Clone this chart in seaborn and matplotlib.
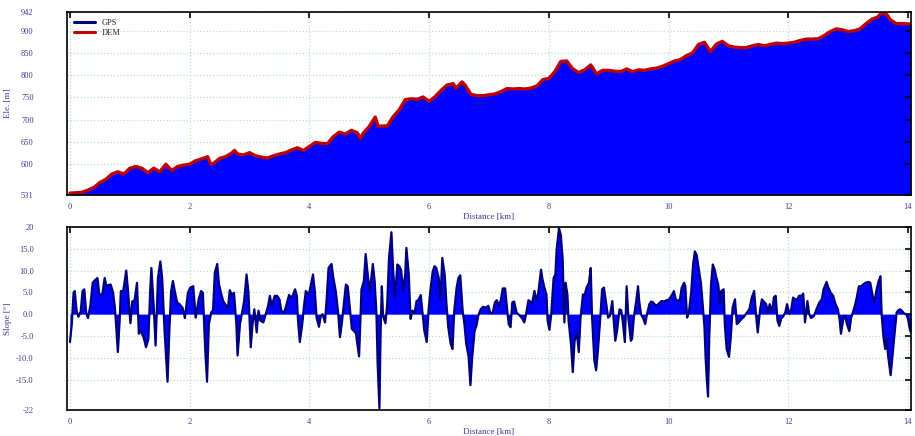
import matplotlib
matplotlib.use('Agg')
import matplotlib.pyplot as plt
import numpy as np
import pandas as pd
import seaborn as sns

# elevation profile
ele_km = [0.0, 0.1, 0.2, 0.3, 0.4, 0.5, 0.6, 0.7, 0.8, 0.9,
          1.0, 1.1, 1.2, 1.3, 1.4, 1.5, 1.6, 1.7, 1.8, 1.9,
          2.0, 2.1, 2.2, 2.3, 2.35, 2.4, 2.5, 2.6, 2.7, 2.75, 2.8, 2.9,
          3.0, 3.1, 3.2, 3.3, 3.4, 3.5, 3.6, 3.7, 3.8, 3.9,
          4.0, 4.1, 4.2, 4.3, 4.4, 4.5, 4.6, 4.7, 4.8, 4.85, 4.9,
          5.0, 5.1, 5.15, 5.2, 5.3, 5.4, 5.5, 5.6, 5.7, 5.8, 5.9,
          6.0, 6.1, 6.2, 6.3, 6.4, 6.45, 6.5, 6.55, 6.6, 6.7, 6.8, 6.9,
          7.0, 7.1, 7.2, 7.3, 7.4, 7.5, 7.6, 7.7, 7.8, 7.9,
          8.0, 8.1, 8.2, 8.3, 8.4, 8.5, 8.6, 8.7, 8.8, 8.9,
          9.0, 9.1, 9.2, 9.3, 9.4, 9.5, 9.6, 9.7, 9.8, 9.9,
          10.0, 10.1, 10.2, 10.3, 10.4, 10.5, 10.6, 10.7, 10.8, 10.9,
          11.0, 11.1, 11.2, 11.3, 11.4, 11.5, 11.6, 11.7, 11.8, 11.9,
          12.0, 12.1, 12.2, 12.3, 12.4, 12.5, 12.6, 12.7, 12.8, 12.9,
          13.0, 13.1, 13.2, 13.3, 13.4, 13.5, 13.55, 13.6, 13.65, 13.7, 13.8, 13.9,
          14.0, 14.05]
ele_m = [535, 536, 537, 542, 548, 559, 566, 578, 583, 578,
         591, 595, 591, 581, 591, 583, 600, 586, 595, 598,
         600, 608, 612, 617, 600, 602, 613, 617, 625, 631, 623, 621,
         626, 619, 616, 614, 619, 623, 626, 632, 637, 631,
         640, 649, 647, 646, 662, 672, 668, 676, 671, 658, 670,
         685, 706, 685, 686, 686, 707, 722, 745, 747, 746, 751,
         741, 752, 766, 778, 781, 771, 778, 785, 778, 757, 754, 754,
         756, 758, 763, 770, 769, 770, 769, 771, 776, 790,
         793, 808, 831, 832, 814, 806, 812, 823, 803, 811,
         811, 809, 808, 814, 808, 812, 811, 814, 816, 820,
         826, 832, 835, 844, 850, 869, 874, 853, 870, 876,
         866, 863, 862, 862, 866, 869, 866, 869, 872, 871,
         872, 874, 878, 881, 881, 882, 889, 898, 904, 902,
         898, 900, 904, 916, 926, 931, 940, 938, 936, 925, 916, 916,
         915, 915]

# slope profile
slope_km = [0.0, 0.03, 0.06, 0.08, 0.11, 0.14, 0.18, 0.21, 0.24, 0.27,
            0.30, 0.34, 0.38, 0.41, 0.46, 0.49, 0.54, 0.58, 0.61, 0.65,
            0.68, 0.72, 0.75, 0.77, 0.80, 0.83, 0.85, 0.89, 0.94, 0.97,
            1.01, 1.04, 1.08, 1.12, 1.15, 1.18, 1.23, 1.27, 1.31, 1.34,
            1.36, 1.40, 1.43, 1.47, 1.51, 1.54, 1.58, 1.63, 1.66, 1.69,
            1.72, 1.75, 1.79, 1.83, 1.88, 1.92, 1.97, 2.01, 2.06, 2.10,
            2.15, 2.19, 2.22, 2.26, 2.29, 2.32, 2.36, 2.39, 2.42, 2.46,
            2.49, 2.53, 2.56, 2.59, 2.64, 2.67, 2.70, 2.74, 2.78, 2.80,
            2.84, 2.87, 2.91, 2.95, 2.98, 3.02, 3.05, 3.08, 3.12, 3.15,
            3.18, 3.23, 3.27, 3.31, 3.34, 3.37, 3.42,
            3.46, 3.50, 3.53, 3.58, 3.62, 3.66, 3.69, 3.72, 3.76, 3.79,
            3.81, 3.84, 3.88, 3.91, 3.94, 3.99, 4.02, 4.06, 4.09, 4.12,
            4.16, 4.19, 4.22, 4.26, 4.29, 4.32, 4.37, 4.40, 4.44, 4.48,
            4.51, 4.54, 4.58, 4.61, 4.64, 4.68, 4.71, 4.74, 4.78, 4.80,
            4.83, 4.87, 4.91, 4.94, 4.98, 5.01, 5.06, 5.09, 5.12, 5.14,
            5.17, 5.19, 5.21, 5.23, 5.27, 5.30, 5.33, 5.37, 5.40, 5.43,
            5.47, 5.50, 5.53, 5.57, 5.60, 5.62, 5.66, 5.69, 5.72, 5.76,
            5.79, 5.82, 5.86, 5.89, 5.92, 5.96, 5.99, 6.02, 6.06, 6.09,
            6.12, 6.16, 6.19, 6.22, 6.26, 6.29, 6.32, 6.36, 6.39, 6.42,
            6.46, 6.49, 6.52, 6.56, 6.59, 6.62, 6.66, 6.69, 6.72, 6.76,
            6.79, 6.82, 6.86, 6.90, 6.94, 6.99,
            7.02, 7.06, 7.10, 7.13, 7.17, 7.20, 7.23, 7.27, 7.30, 7.33,
            7.36, 7.39, 7.42, 7.46, 7.49, 7.52, 7.56, 7.59, 7.62, 7.66,
            7.69, 7.72, 7.76, 7.79, 7.82, 7.87, 7.89, 7.92, 7.96, 7.98,
            8.01, 8.04, 8.08, 8.11, 8.13, 8.17, 8.20, 8.23, 8.26, 8.28,
            8.31, 8.33, 8.37, 8.40, 8.43, 8.47, 8.50, 8.53, 8.57, 8.60,
            8.63, 8.67, 8.70, 8.72, 8.76, 8.79, 8.82, 8.86, 8.89, 8.92,
            8.96, 8.99, 9.02, 9.06, 9.09, 9.11, 9.14, 9.18, 9.21, 9.24,
            9.27, 9.30, 9.33, 9.37, 9.39, 9.42, 9.46, 9.49, 9.51, 9.54,
            9.58, 9.61, 9.64, 9.68, 9.71, 9.74, 9.79, 9.83, 9.88, 9.92,
            9.97, 10.01, 10.06, 10.09, 10.12, 10.16, 10.19, 10.22, 10.26, 10.28,
            10.31, 10.34, 10.38, 10.41, 10.44,
            10.47, 10.51, 10.54, 10.57, 10.60, 10.62, 10.64, 10.66, 10.68, 10.71,
            10.74, 10.77, 10.80, 10.83, 10.86, 10.88, 10.92, 10.94, 10.97, 11.01,
            11.04, 11.07, 11.11, 11.14, 11.17, 11.22, 11.26, 11.31, 11.35, 11.39,
            11.43, 11.46, 11.49, 11.53, 11.56, 11.59, 11.63, 11.66, 11.69, 11.73,
            11.76, 11.79, 11.82, 11.85, 11.88, 11.92, 11.95, 11.98, 12.02, 12.05,
            12.08, 12.12, 12.15, 12.18, 12.22, 12.25, 12.28, 12.32, 12.35, 12.38,
            12.43, 12.47, 12.52, 12.56, 12.59, 12.64, 12.67, 12.71, 12.75, 12.79,
            12.83, 12.86, 12.88, 12.92, 12.95, 12.98, 13.02, 13.05, 13.08, 13.12,
            13.15, 13.18, 13.22, 13.25, 13.29, 13.34, 13.37, 13.41, 13.44, 13.47,
            13.51, 13.54, 13.56, 13.59, 13.62, 13.64, 13.67, 13.71, 13.74, 13.77,
            13.81, 13.84, 13.87, 13.91, 13.93, 13.97, 14.00, 14.03, 14.05]
slope_deg = [-6.4, -2.3, 4.9, 5.3, 0.8, -0.6, 0.6, 5.3, 5.7, 0.4,
             -0.9, 1.9, 7.2, 7.7, 8.3, 4.5, 4.5, 8.3, 6.4, 6.7,
             6.8, 4.9, 1.5, -2.3, -8.7, -1.5, 5.3, 5.3, 10.0, 5.3,
             -2.1, 2.9, 3.2, 7.2, -4.5, -3.8, -5.3, -7.6, -5.7, 5.3,
             10.6, 1.5, -7.2, 8.3, 12.1, 8.3, -3.8, -15.5, -3.8, 5.3,
             7.6, 5.3, 2.7, 2.3, 1.5, -0.9, 4.9, 6.1, 6.4, -0.8,
             3.4, 5.3, 4.9, -8.3, -15.5, -2.3, 0.4, 0.9, 9.5, 11.5,
             6.8, 4.5, 3.0, 2.3, 1.5, 5.5, 4.5, 4.9, -2.3, -9.5,
             -2.3, 0.0, 3.0, 9.1, 5.3, -7.6, -2.3, 1.1, -4.2, 0.8,
             -1.5, -1.9, 0.0, 1.9, 4.2, 1.9, 4.2,
             4.2, 3.4, 0.8, 0.4, 2.3, 4.4, 3.9, 4.2, 5.7, 4.2,
             -1.5, -6.4, -2.3, 1.9, 5.3, 4.5, 6.4, 9.1, 5.3, -0.8,
             -2.9, -0.4, 0.0, -1.9, 3.8, 10.6, 11.5, 8.3, 5.3, 0.4,
             -5.3, -2.3, 3.0, 6.8, 6.4, 0.8, -3.4, -3.8, -4.5, -6.8,
             -9.7, 5.7, 7.6, 13.8, 8.3, 5.3, 11.5, 7.6, 0.0, -11.4,
             -21.6, -3.8, 6.4, -0.4, -2.1, 2.3, 12.9, 18.8, 9.8, 3.8,
             11.4, 11.0, 10.2, 5.3, 9.1, 15.2, 9.1, -1.1, 0.8, 0.4,
             3.0, 3.2, 4.4, 0.4, -3.8, -6.4, 0.8, 5.3, 9.8, 11.0,
             10.6, 8.3, 3.4, 12.9, 9.1, 2.3, -3.0, -6.8, -8.0, 0.8,
             6.1, 8.3, 8.9, 0.8, -2.3, -6.8, -9.8, -16.3, -9.8, -3.8,
             -2.7, -0.4, 1.1, 1.7, 1.5, 1.9,
             0.4, 0.2, 2.7, 3.2, 1.9, 3.4, 5.9, 5.9, 1.5, -2.3,
             -3.0, 2.7, 2.9, 0.4, 0.0, -0.4, -1.1, -1.9, 0.0, 3.2,
             2.9, 2.4, 5.3, 3.4, 4.5, 10.2, 8.3, 6.4, 4.5, -1.5,
             -3.6, 0.0, 8.3, 9.1, 14.8, 19.7, 18.2, 12.9, -1.9, 7.2,
             4.5, -1.5, -6.8, -13.3, -6.1, -4.5, -8.7, -0.8, 4.5, 4.5,
             6.1, 7.2, 10.6, 0.0, -10.6, -12.9, -8.3, -0.8, 5.7, 6.1,
             2.3, -0.8, -0.4, 3.0, -2.3, -6.1, -3.8, 1.1, 0.9, -2.3,
             -6.4, 6.4, -1.1, -6.1, -5.7, -0.8, 3.0, 6.4, 3.0, 0.0,
             -1.1, -2.3, 0.0, 2.3, 2.9, 2.7, 1.9, 2.3, 3.0, 2.9,
             3.2, 3.4, 4.5, 5.3, 3.4, 3.0, 3.4, 6.1, 7.2, 6.4,
             -0.8, 0.4, 5.3, 11.4, 14.4,
             13.6, 9.8, 7.2, 2.3, -3.0, -10.2, -15.2, -18.9, -5.3, 6.8,
             11.4, 10.2, 8.3, 6.8, 2.3, 5.3, 5.7, -2.3, -8.0, -9.8,
             -5.3, 1.5, 3.4, -2.3, -1.9, -1.1, -0.6, 0.4, 1.1, 3.8,
             5.3, 0.0, -4.2, 1.1, 3.4, 2.9, 2.3, 0.4, 2.3, 0.4,
             3.9, 4.2, -1.5, -2.7, -1.1, -0.4, 0.4, 2.3, 0.0, 1.1,
             3.8, 3.4, 3.4, 4.2, 4.2, 4.7, -1.9, 3.0, 0.0, -0.9,
             -0.4, 1.1, 2.7, 3.4, 5.7, 7.4, 6.1, 4.9, 4.2, 2.3,
             1.1, -1.5, -4.5, -1.1, -0.4, -2.3, -3.9, -0.8, 0.4, 2.3,
             4.2, 6.4, 6.4, 6.8, 7.2, 7.4, 7.2, 4.2, 2.7, 5.3,
             7.6, 8.7, 0.0, -5.3, -8.0, -5.3, -9.8, -14.0, -9.8, -5.3,
             0.4, 0.9, 1.1, 0.6, 0.2, 0.0, -1.1, -3.4, -4.2]

ele_ticks = [531, 600, 650, 700, 750, 800, 850, 900, 942]
slope_ticks = [-22, -15, -10, -5, 0, 5, 10, 15, 20]
slope_labels = ['-22', '-15.0', '-10.0', '-5.0', '0.0', '5.0', '10.0', '15.0', '20']
km_ticks = [0, 2, 4, 6, 8, 10, 12, 14]

navy = '#00007a'
label_col = '#3b3b96'
grid_col = '#b9e3b9'

ele_df = pd.DataFrame({'km': ele_km, 'ele': ele_m})
slope_df = pd.DataFrame({'km': slope_km, 'slope': slope_deg})

sns.set_theme(style='white')
plt.rcParams['font.family'] = ['Liberation Serif', 'DejaVu Serif']

fig = plt.figure(figsize=(9.15, 4.36), dpi=100)
ax_top = fig.add_axes([0.0732, 0.5528, 0.9224, 0.4197])
ax_bot = fig.add_axes([0.0732, 0.0596, 0.9224, 0.4198])


def style_axis(ax, yticks, ylabels, ylabel):
    ax.set_xlim(-0.05, 14.05)
    ax.set_xticks(km_ticks)
    ax.set_xticklabels([str(t) for t in km_ticks])
    ax.set_yticks(yticks)
    ax.set_yticklabels(ylabels)
    # grid behind the filled area, ticks stay on top
    ax.grid(False)
    ax.set_axisbelow(False)
    for t in km_ticks:
        ax.axvline(t, color=grid_col, linestyle=':', linewidth=0.9, zorder=1)
    for t in yticks:
        ax.axhline(t, color=grid_col, linestyle=':', linewidth=0.9, zorder=1)
    ax.tick_params(axis='both', which='major', direction='in', length=4, width=1.2,
                   color='black', labelsize=6, labelcolor=label_col,
                   top=True, right=True)
    ax.tick_params(axis='y', pad=24)
    ax.tick_params(axis='x', pad=6)
    for sp in ax.spines.values():
        sp.set_color('black')
        sp.set_linewidth(1.2)
        sp.set_zorder(6)
    ax.set_xlabel('Distance [km]', fontsize=6.5, color=label_col, labelpad=1)
    ax.set_ylabel(ylabel, fontsize=6.5, color=label_col)
    ax.yaxis.set_label_coords(-0.065, 0.5)


# elevation panel
ax_top.fill_between(ele_df['km'], 531, ele_df['ele'], color='#0000ff', linewidth=0, zorder=2)
sns.lineplot(data=ele_df, x='km', y='ele', ax=ax_top, color=navy, linewidth=1.0,
             label='GPS', zorder=3, sort=False)
sns.lineplot(data=ele_df, x='km', y='ele', ax=ax_top, color='#c00000', linewidth=2.4,
             label='DEM', zorder=4, sort=False)
ax_top.set_ylim(531, 942)
style_axis(ax_top, ele_ticks, [str(t) for t in ele_ticks], 'Ele. [m]')
leg = ax_top.legend(loc='upper left', frameon=False, fontsize=6, handlelength=2.6,
                    borderaxespad=0.4, labelspacing=0.3)
for line in leg.get_lines():
    line.set_linewidth(2.2)

# slope panel
ax_bot.fill_between(slope_df['km'], 0, slope_df['slope'], color='#0000ff', linewidth=0, zorder=2)
sns.lineplot(data=slope_df, x='km', y='slope', ax=ax_bot, color=navy, linewidth=1.6,
             zorder=3, sort=False)
ax_bot.set_ylim(-22, 20)
style_axis(ax_bot, slope_ticks, slope_labels, 'Slope [°]')

fig.savefig('out.png', dpi=100)
plt.close(fig)
